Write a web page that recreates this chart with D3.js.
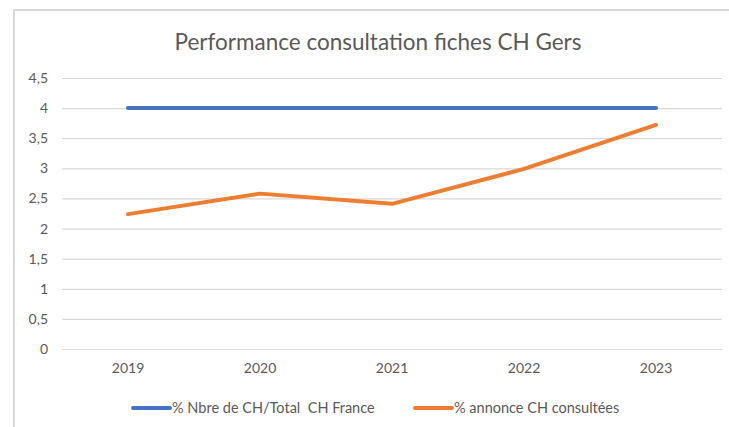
<!DOCTYPE html>
<html>
<head>
<meta charset="utf-8">
<script src="https://cdn.jsdelivr.net/npm/d3@7"></script>
<style>
  body { margin: 0; background: #fff; }
  svg { display: block; font-family: Lato, "Open Sans", sans-serif; }
</style>
</head>
<body>
<div id="svg-container"></div>
<script>
// data
const years = ["2019", "2020", "2021", "2022", "2023"];
const partCH = [4, 4, 4, 4, 4];
const annonces = [2.24, 2.58, 2.41, 2.99, 3.72];
const yTicks = [0, 0.5, 1, 1.5, 2, 2.5, 3, 3.5, 4, 4.5];
const seriesNames = ["% Nbre de CH/Total  CH France", "% annonce CH consultées"];
const colors = ["#4472c4", "#ed7d31"];

const width = 729;
const height = 427;
const margin = { top: 78, right: 7, bottom: 78, left: 62 };

const svg = d3.select("#svg-container").append("svg")
  .attr("width", width).attr("height", height);

// chart frame
svg.append("rect")
  .attr("x", 14).attr("y", 10)
  .attr("width", width).attr("height", height)
  .attr("fill", "none").attr("stroke", "#d9d9d9").attr("stroke-width", 2);

// title
svg.append("text")
  .attr("x", 378).attr("y", 50)
  .attr("text-anchor", "middle")
  .attr("fill", "#595959")
  .attr("font-size", 22.5)
  .text("Performance consultation fiches CH Gers");

// scales
const xScale = d3.scaleBand().domain(years).range([margin.left, width - margin.right]);
const yScale = d3.scaleLinear().domain([0, 4.5]).range([349, 78]);
const fmt = (d) => String(d).replace(".", ",");

// grid + y labels
const yAxis = d3.axisLeft(yScale)
  .tickValues(yTicks)
  .tickFormat(fmt)
  .tickSize(-(width - margin.right - margin.left))
  .tickPadding(14);

const gy = svg.append("g")
  .attr("transform", `translate(${margin.left},0)`)
  .call(yAxis);
gy.select(".domain").remove();
gy.selectAll(".tick line").attr("stroke", "#d9d9d9").attr("stroke-width", 1.2);
gy.selectAll(".tick text").attr("fill", "#595959").attr("font-size", 14)
  .attr("font-family", "Lato, sans-serif");

// x labels
const xAxis = d3.axisBottom(xScale).tickSize(0).tickPadding(14);
const gx = svg.append("g")
  .attr("transform", `translate(0,${yScale(0)})`)
  .call(xAxis);
gx.select(".domain").attr("stroke", "#d9d9d9").attr("stroke-width", 1.2);
gx.selectAll(".tick text").attr("fill", "#595959").attr("font-size", 14)
  .attr("font-family", "Lato, sans-serif");

// lines
const line = d3.line()
  .x((d, i) => xScale(years[i]) + xScale.bandwidth() / 2)
  .y((d) => yScale(d));

[partCH, annonces].forEach((s, k) => {
  svg.append("path")
    .datum(s)
    .attr("d", line)
    .attr("fill", "none")
    .attr("stroke", colors[k])
    .attr("stroke-width", 4)
    .attr("stroke-linecap", "round")
    .attr("stroke-linejoin", "round");
});

// legend
const legendX = [133, 415];
seriesNames.forEach((name, k) => {
  const g = svg.append("g").attr("transform", `translate(${legendX[k]},408)`);
  g.append("line")
    .attr("x1", 0).attr("x2", 37)
    .attr("stroke", colors[k]).attr("stroke-width", 4)
    .attr("stroke-linecap", "round");
  g.append("text")
    .attr("x", 39).attr("y", 5)
    .attr("fill", "#595959").attr("font-size", 14.5)
    .attr("xml:space", "preserve")
    .style("white-space", "pre")
    .text(name);
});
</script>
</body>
</html>
